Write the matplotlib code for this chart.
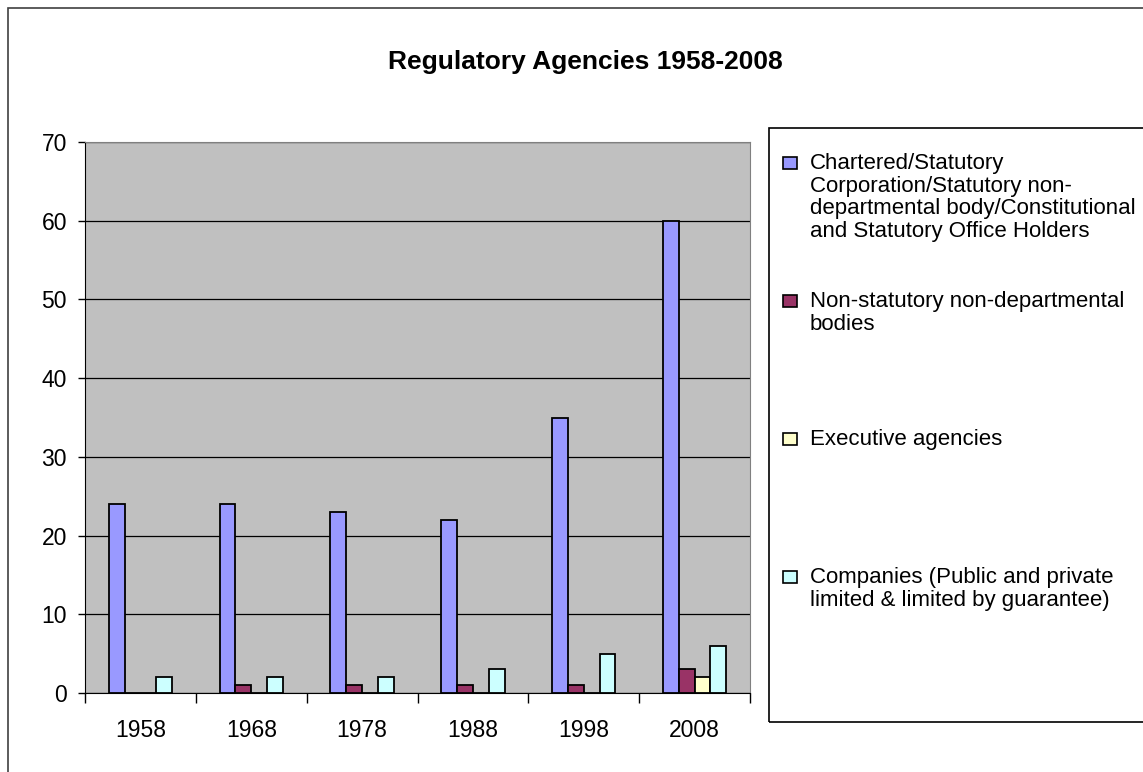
import numpy as np
import matplotlib.pyplot as plt
from matplotlib.patches import Rectangle

years = ['1958', '1968', '1978', '1988', '1998', '2008']
series_names = [
    'Chartered/Statutory\nCorporation/Statutory non-\ndepartmental body/Constitutional\nand Statutory Office Holders',
    'Non-statutory non-departmental\nbodies',
    'Executive agencies',
    'Companies (Public and private\nlimited & limited by guarantee)',
]
chartered = [24, 24, 23, 22, 35, 60]
non_statutory = [0, 1, 1, 1, 1, 3]
executive = [0, 0, 0, 0, 0, 2]
companies = [2, 2, 2, 3, 5, 6]
colors = ['#9999FF', '#993366', '#FFFFCC', '#CCFFFF']

plt.rcParams['font.family'] = ['Liberation Sans', 'DejaVu Sans']

fig = plt.figure(figsize=(11.43, 7.72), dpi=100)
W, H = 1143, 772

# outer chart border (runs off the right and bottom edges)
fig.patches.append(Rectangle((8 / W, -0.5), 2, 1.5 - 8 / H, transform=fig.transFigure,
                             fill=False, ec='#404040', lw=1.2))

ax = fig.add_axes([85 / W, 1 - 693 / H, 665 / W, 551 / H])
ax.set_facecolor('#C0C0C0')

x = np.arange(len(years))
bw = 0.143
data = [chartered, non_statutory, executive, companies]
for i, vals in enumerate(data):
    ax.bar(x - 1.5 * bw + i * bw, vals, width=bw, color=colors[i],
           edgecolor='black', linewidth=1.3, zorder=3)

ax.set_xlim(-0.5, len(years) - 0.5)
ax.set_ylim(0, 70)
ax.set_yticks(range(0, 71, 10))
ax.yaxis.grid(True, color='black', lw=0.9, zorder=0)
ax.set_xticks(np.arange(-0.5, len(years), 1.0))
ax.set_xticklabels([])
ax.set_xticks(x, minor=True)
ax.set_xticklabels(years, minor=True)
ax.tick_params(axis='x', which='minor', length=0, pad=19, labelsize=16.5)
ax.tick_params(axis='x', which='major', length=7, width=1, direction='out')
ax.tick_params(axis='y', length=5, width=1, direction='out', labelsize=16.5, pad=8)
for s in ['top', 'right']:
    ax.spines[s].set_color('#808080')
for s in ['left', 'bottom']:
    ax.spines[s].set_color('black')

fig.suptitle('Regulatory Agencies 1958-2008', x=585 / W, y=1 - 62 / H,
             fontsize=19, fontweight='bold', va='center')

# legend box
fig.patches.append(Rectangle((769 / W, 1 - 722 / H), 2, 594 / H,
                             transform=fig.transFigure, fill=False,
                             ec='black', lw=1.2))
tops = [153, 291, 429, 567]
for name, c, t in zip(series_names, colors, tops):
    fig.patches.append(Rectangle((783 / W, 1 - (t + 16) / H), 14 / W, 12 / H,
                                 transform=fig.transFigure, fc=c,
                                 ec='black', lw=1.2))
    fig.text(810 / W, 1 - t / H, name, fontsize=16, va='top', ha='left',
             linespacing=1.1)

fig.savefig('out.png', dpi=100)
